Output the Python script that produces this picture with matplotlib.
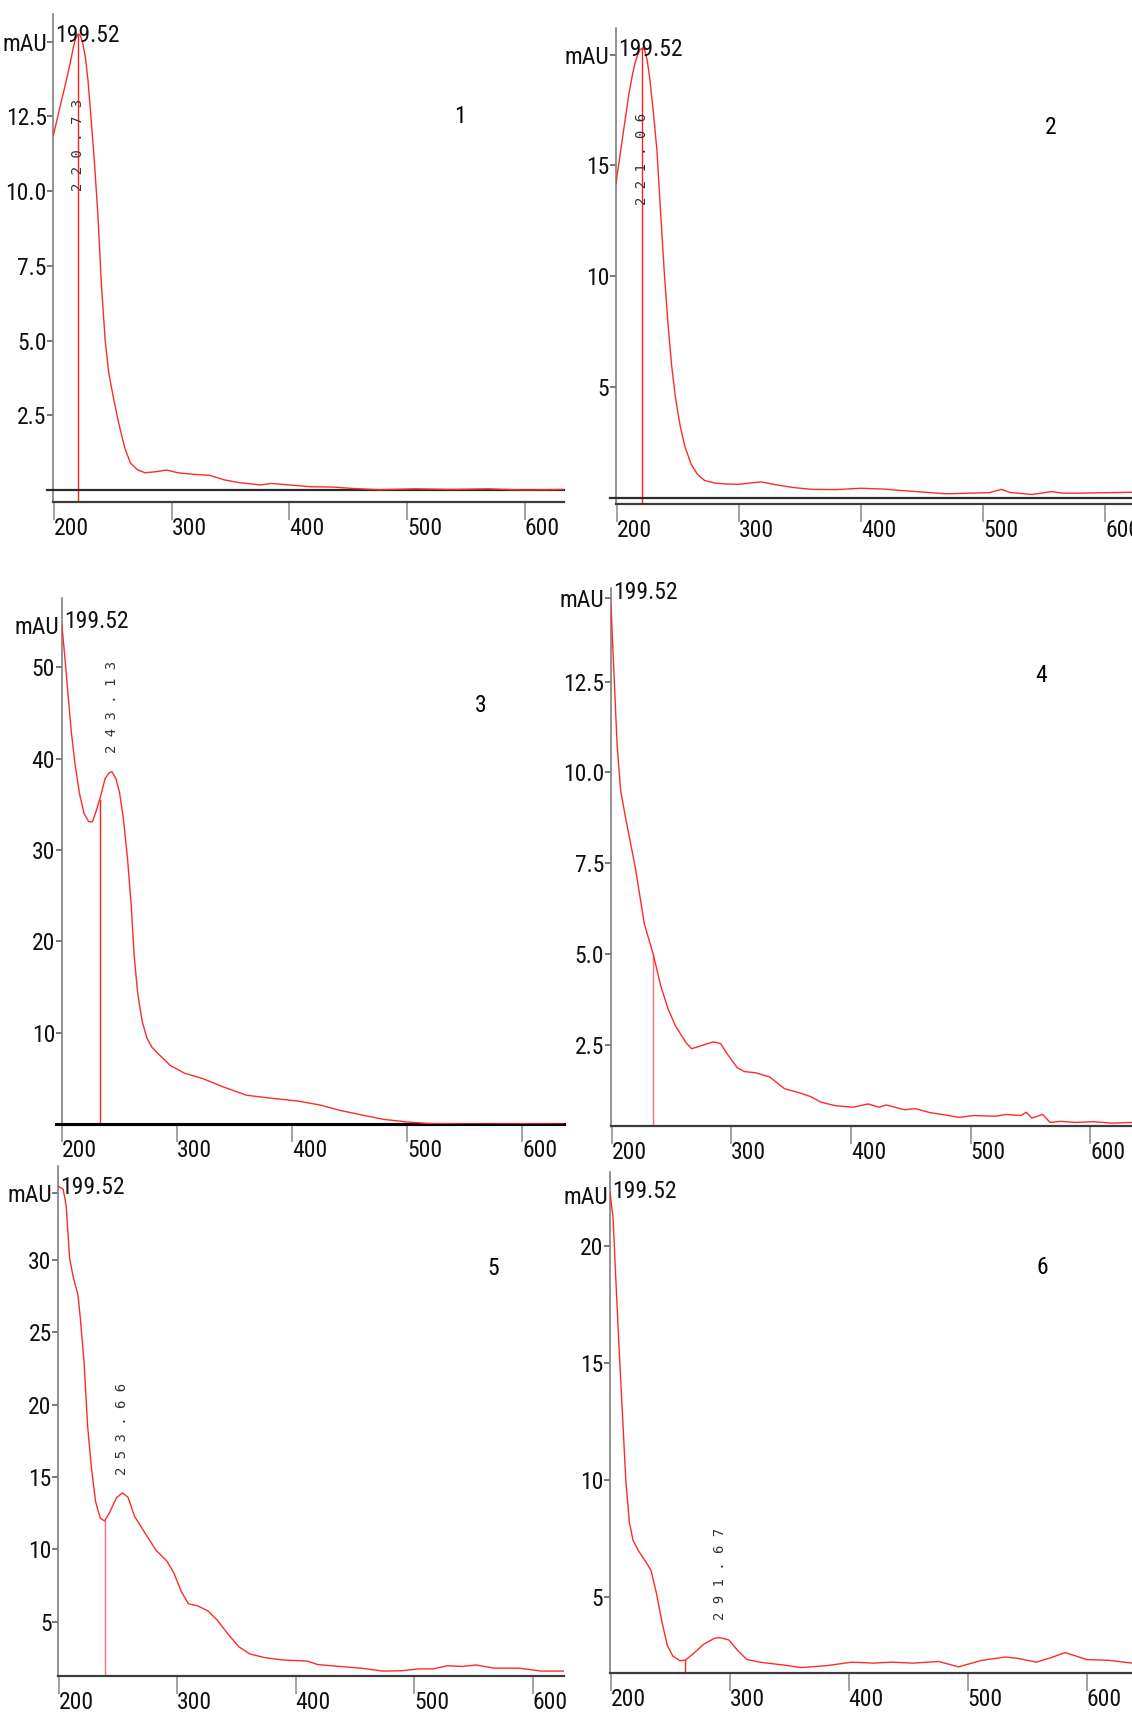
import numpy as np
import matplotlib.pyplot as plt
from matplotlib import font_manager

# fonte estreita para os numeros dos eixos
nomes = {f.name for f in font_manager.fontManager.ttflist}
if 'Liberation Sans Narrow' in nomes:
    fonte, tam = 'Liberation Sans Narrow', 19
elif 'Roboto Condensed' in nomes:
    fonte, tam = 'Roboto Condensed', 17
else:
    fonte, tam = 'DejaVu Sans', 15.5
plt.rcParams['font.family'] = [fonte, 'DejaVu Sans']
plt.rcParams['font.stretch'] = 'condensed'
mono = ['DejaVu Sans Mono', 'Liberation Mono']

inicio = 199.52

# espectro 1
nm1 = [199.52, 205, 210, 214, 216.5, 218.5, 220.73, 222.5, 224.5, 226.7, 229, 231.3, 234.4,
       237.4, 240.5, 243.6, 246.6, 251.2, 255.8, 260.4, 265, 271.2, 277.3, 286.5, 295.7, 305,
       317.2, 332.5, 344.8, 357, 375.5, 384.7, 400, 418.4, 436.8, 455.2, 476.7, 507.4, 538,
       568.7, 599.4, 633.4]
mau1 = [11.85, 12.78, 13.6, 14.3, 14.8, 15.1, 15.25, 15.2, 14.95, 14.5, 13.7, 12.57, 11.0,
        9.2, 6.8, 5.0, 3.92, 2.96, 2.12, 1.39, 0.91, 0.67, 0.58, 0.61, 0.67, 0.58,
        0.53, 0.49, 0.34, 0.25, 0.17, 0.22, 0.17, 0.11, 0.10, 0.05, 0.01, 0.04, 0.02,
        0.04, 0.0, 0.02]

# espectro 2
nm2 = [199.52, 205, 210, 213, 215, 217, 219, 221.06, 223, 225, 227, 230, 233, 236, 239, 242,
       245, 248, 252, 256, 261, 266, 272, 280, 290, 300, 310, 318, 330, 345, 360, 380, 400,
       420, 430, 450, 470, 490, 505, 515, 522, 540, 556, 565, 580, 600, 621.8]
mau2 = [14.2, 16.3, 18.2, 19.1, 19.6, 19.95, 20.2, 20.3, 20.2, 19.75, 19.0, 17.45, 15.7,
        12.9, 10.2, 7.9, 6.0, 4.6, 3.26, 2.3, 1.53, 1.08, 0.79, 0.68, 0.63, 0.62, 0.68,
        0.73, 0.6, 0.47, 0.39, 0.38, 0.44, 0.4, 0.35, 0.27, 0.19, 0.22, 0.24, 0.39, 0.25,
        0.16, 0.29, 0.22, 0.22, 0.24, 0.26]

# espectro 3
nm3 = [199.52, 202, 205, 207.9, 211, 215.1, 219, 223, 226.2, 229.3, 233.4, 237.2, 240.4,
       243.13, 246.7, 249.8, 253, 256.8, 260, 262.5, 265.6, 269.4, 273.5, 278, 284.5, 294,
       306.6, 322.4, 341.3, 360.3, 379.2, 404.4, 423.3, 442.3, 461.2, 480, 500.6, 520, 540,
       560, 600, 636.3]
mau3 = [54.8, 51.5, 47.1, 42.9, 39.5, 36.1, 34.0, 33.1, 33.1, 34.2, 35.9, 37.8, 38.4,
        38.6, 37.8, 36.3, 33.6, 29.0, 23.9, 18.5, 14.3, 11.3, 9.45, 8.4, 7.56, 6.4,
        5.55, 4.96, 4.0, 3.15, 2.86, 2.52, 2.1, 1.47, 0.97, 0.5, 0.21, 0.05, 0.02,
        0.0, 0.02, 0.0]

# espectro 4
nm4 = [199.52, 202.1, 204.6, 207.6, 212.2, 219.8, 227.4, 235.0, 241.0, 247.1, 253.2, 262.3,
       266.9, 277.5, 285.1, 291.2, 295.7, 304.9, 310.9, 320.1, 332.2, 338.3, 344.4, 356.5,
       365.7, 374.8, 386.9, 402.1, 414.3, 423.4, 429.5, 444.7, 453.8, 466, 478.1, 490.3,
       502.4, 520.7, 529.8, 541.9, 546.5, 551.1, 560.2, 566.3, 575.4, 587.5, 602.7, 617.9,
       634.8]
mau4 = [14.6, 12.66, 10.76, 9.5, 8.66, 7.39, 5.82, 4.97, 4.13, 3.5, 3.03, 2.55,
        2.39, 2.5, 2.58, 2.53, 2.29, 1.87, 1.76, 1.73, 1.61, 1.45, 1.29, 1.18,
        1.08, 0.92, 0.82, 0.78, 0.87, 0.78, 0.84, 0.71, 0.74, 0.63, 0.57, 0.5,
        0.55, 0.53, 0.58, 0.55, 0.64, 0.48, 0.58, 0.36, 0.39, 0.36, 0.38, 0.34,
        0.36]

# espectro 5
nm5 = [199.52, 203.6, 206.1, 209.1, 212.2, 216.1, 218.2, 221.3, 224.3, 227.4, 231, 235,
       238.6, 242.6, 248.6, 253.66, 258.4, 263.8, 271.4, 282.1, 291.2, 297.3, 303.3, 309.4,
       317, 326.1, 333.7, 342.9, 352, 361.1, 373.3, 388.4, 409.7, 418.8, 437.1, 455.3,
       473.6, 488.8, 504, 516.1, 528.3, 540.4, 552.6, 567.8, 589.1, 607.3, 626.6]
mau5 = [35.1, 34.9, 33.8, 30.1, 28.8, 27.6, 25.9, 22.9, 18.5, 15.7, 13.3, 12.15,
        11.96, 12.5, 13.56, 13.9, 13.6, 12.3, 11.3, 9.93, 9.19, 8.33, 7.09, 6.23,
        6.1, 5.73, 5.11, 4.13, 3.26, 2.77, 2.52, 2.35, 2.27, 2.03, 1.9, 1.78,
        1.58, 1.6, 1.73, 1.73, 1.95, 1.9, 2.0, 1.78, 1.78, 1.58, 1.58]

# espectro 6
nm6 = [199.52, 202.1, 204.6, 206.7, 209.7, 212.8, 215.8, 218.8, 223.4, 229.5, 234, 238.6,
       243.2, 247.7, 252.3, 258.4, 262.9, 269, 278.1, 287.2, 291.67, 299.4, 307, 314.6,
       326.7, 345, 360.2, 381.5, 402.7, 421, 436.2, 454.4, 475.7, 492.4, 512.2, 531.9,
       542.6, 557.8, 569.9, 582.1, 600.3, 618.5, 638.2]
mau6 = [22.3, 21.2, 18.4, 16.1, 13.1, 10.0, 8.2, 7.44, 6.98, 6.52, 6.14, 5.15,
        3.93, 2.94, 2.48, 2.28, 2.31, 2.56, 2.98, 3.24, 3.27, 3.17, 2.71, 2.33,
        2.21, 2.1, 1.99, 2.07, 2.22, 2.18, 2.22, 2.18, 2.25, 2.02, 2.3, 2.44,
        2.38, 2.22, 2.41, 2.63, 2.33, 2.3, 2.18]

picos = [220.73, 221.06, 243.13, None, 253.66, 291.67]
cursores = [220.73, 221.06, 232.5, 235.0, 238.6, 262.3]

yticks = [[2.5, 5.0, 7.5, 10.0, 12.5], [5, 10, 15], [10, 20, 30, 40, 50],
          [2.5, 5.0, 7.5, 10.0, 12.5], [5, 10, 15, 20, 25, 30], [5, 10, 15, 20]]
ytick_fmt = ['%.1f', '%d', '%d', '%.1f', '%d', '%d']
pos_mau = [15.0, 20.0, 54.4, 14.8, 34.6, 22.1]
tick_mau = [True, True, False, True, True, False]
ylims = [(-0.39, 15.91), (-0.27, 21.2), (0.0, 57.6), (0.27, 15.08), (1.24, 36.5), (1.77, 23.17)]
xmaxs = [633.4, 621.8, 636.3, 634.8, 626.6, 638.2]
numeros = ['1', '2', '3', '4', '5', '6']
pos_num = [(544.7, 12.5), (555, 16.7), (563.7, 45.8), (559, 12.66), (567, 29.4), (563, 19.1)]

espectros = [(nm1, mau1), (nm2, mau2), (nm3, mau3), (nm4, mau4), (nm5, mau5), (nm6, mau6)]

# caixas dos eixos em pixels: esquerda, topo, direita, base
caixas = [(53.3, 14.3, 564, 501.7), (616, 28, 1132, 504), (61.7, 598, 564, 1124),
          (611, 588, 1132, 1125.7), (58.3, 1166, 564, 1676), (610, 1172, 1132, 1672.7)]

W, H = 1132, 1718
fig = plt.figure(figsize=(W / 100, H / 100), dpi=100)
fig.patch.set_facecolor('white')

for i in range(6):
    l, t, r, b = caixas[i]
    ax = fig.add_axes([l / W, 1 - b / H, (r - l) / W, (b - t) / H])
    nm, mau = espectros[i]

    ax.plot(nm, mau, color='#ff2a2a', lw=1.0, zorder=3)

    # cursor vertical ate a curva
    yc = np.interp(cursores[i], nm, mau)
    cor_cursor = '#ff7070' if i in (3, 4) else '#ff2020'
    ax.plot([cursores[i], cursores[i]], [ylims[i][0], yc], color=cor_cursor, lw=1.0, zorder=2)

    if picos[i] is not None:
        yp = np.interp(picos[i], nm, mau)
        txt = ' '.join('%.2f' % picos[i])
        if i < 2:
            ax.annotate(txt, (picos[i], yp), xytext=(0, -47), textcoords='offset points',
                        rotation=90, ha='center', va='top', fontsize=10, color='#333333',
                        family=mono, zorder=4)
        else:
            ax.annotate(txt, (picos[i], yp), xytext=(0, 13), textcoords='offset points',
                        rotation=90, ha='center', va='bottom', fontsize=10, color='#333333',
                        family=mono, zorder=4)

    ax.set_xlim(inicio, xmaxs[i])
    ax.set_ylim(*ylims[i])

    # linha do zero
    if i < 3:
        ax.axhline(0, xmin=-0.012, xmax=1, color='#2b2b2b' if i < 2 else 'black',
                   lw=1.6 if i < 2 else 2.2, clip_on=False, zorder=2.6)

    for lado in ['top', 'right']:
        ax.spines[lado].set_visible(False)
    ax.spines['left'].set_color('#808080')
    ax.spines['left'].set_linewidth(1.2)
    ax.spines['bottom'].set_color('black' if i == 2 else '#3c3c3c')
    ax.spines['bottom'].set_linewidth(2.2 if i == 2 else 1.6)

    ax.set_xticks([200, 300, 400, 500, 600])
    ax.set_xticklabels(['200', '300', '400', '500', '600'])
    ax.tick_params(axis='x', length=13, width=1.1, color='#8a8a8a', pad=-2,
                   labelsize=tam, labelcolor='#111111')
    for lab in ax.get_xticklabels():
        lab.set_horizontalalignment('left')

    ticks = list(yticks[i])
    rotulos = [ytick_fmt[i] % v for v in ticks]
    if tick_mau[i]:
        ticks.append(pos_mau[i])
        rotulos.append('mAU')
    else:
        ax.annotate('mAU', (inicio, pos_mau[i]), xytext=(-1.5, 0), textcoords='offset points',
                    ha='right', va='center', fontsize=tam, color='#111111')
    ax.set_yticks(ticks)
    ax.set_yticklabels(rotulos)
    ax.tick_params(axis='y', length=4.5, width=1.1, color='#555555', pad=0.3,
                   labelsize=tam, labelcolor='#111111')

    ax.annotate('199.52', (inicio, pos_mau[i]), xytext=(1.5, 4), textcoords='offset points',
                ha='left', va='center', fontsize=tam, color='#111111')

    ax.text(pos_num[i][0], pos_num[i][1], numeros[i], ha='center', va='center',
            fontsize=tam, color='black')

    ax.set_facecolor('none')

fig.savefig('out.png', dpi=100, facecolor='white')
